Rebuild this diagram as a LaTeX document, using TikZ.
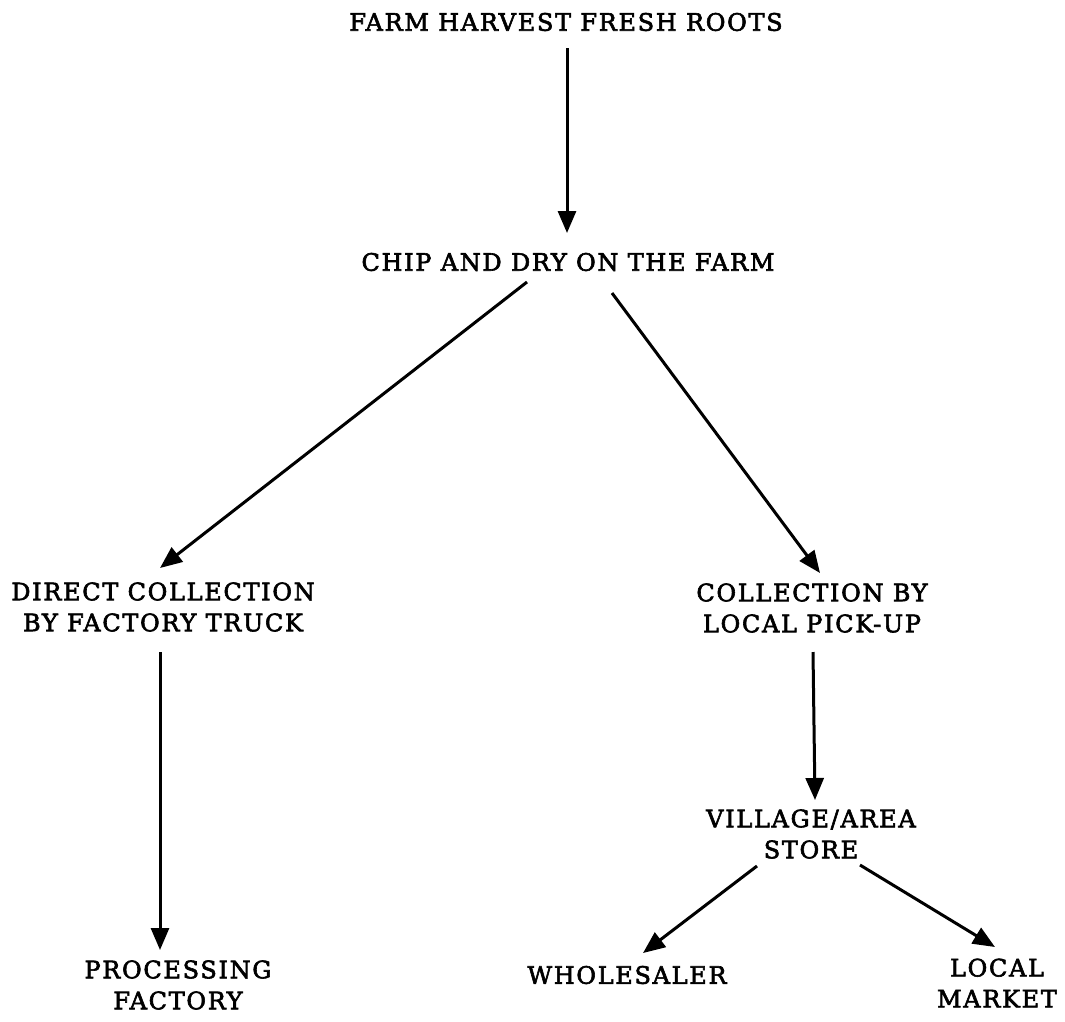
\documentclass[tikz,border=0pt]{standalone}
\usepackage{fontspec}
\setmainfont{DejaVu Serif}[LetterSpace=7,FakeBold=2.5]
\usetikzlibrary{arrows.meta}
\begin{document}
\begin{tikzpicture}[x=1pt,y=-1pt,
  lbl/.style={font=\fontsize{24}{31}\selectfont, align=center, inner sep=0pt},
  arr/.style={line width=3pt, -{Triangle[length=22pt,width=18pt]}}]
\useasboundingbox (0,0) rectangle (1065,1021);
\node[lbl] (farm) at (566,22) {FARM HARVEST FRESH ROOTS};
\node[lbl] (chip) at (568,262) {CHIP AND DRY ON THE FARM};
\node[lbl] (direct) at (163,607) {DIRECT COLLECTION\\BY FACTORY TRUCK};
\node[lbl] (local) at (812,608) {COLLECTION BY\\LOCAL PICK-UP};
\node[lbl] (store) at (811,834) {VILLAGE/AREA\\STORE};
\node[lbl] (factory) at (178,985) {PROCESSING\\FACTORY};
\node[lbl] (whole) at (627,975) {WHOLESALER};
\node[lbl] (market) at (997,983) {LOCAL\\MARKET};
\draw[arr] ([shift={(1,26)}]farm.center) -- ([shift={(-1,-29)}]chip.center);
\draw[arr] ([shift={(-41,20)}]chip.center) -- ([shift={(-3,-39)}]direct.center);
\draw[arr] ([shift={(44,31)}]chip.center) -- ([shift={(8,-35)}]local.center);
\draw[arr] ([shift={(-3,45)}]direct.center) -- ([shift={(-18,-35)}]factory.center);
\draw[arr] ([shift={(1,44)}]local.center) -- ([shift={(4,-34)}]store.center);
\draw[arr] ([shift={(-54,32)}]store.center) -- ([shift={(16,-22)}]whole.center);
\draw[arr] ([shift={(49,31)}]store.center) -- ([shift={(-2,-36)}]market.center);
\end{tikzpicture}
\end{document}
